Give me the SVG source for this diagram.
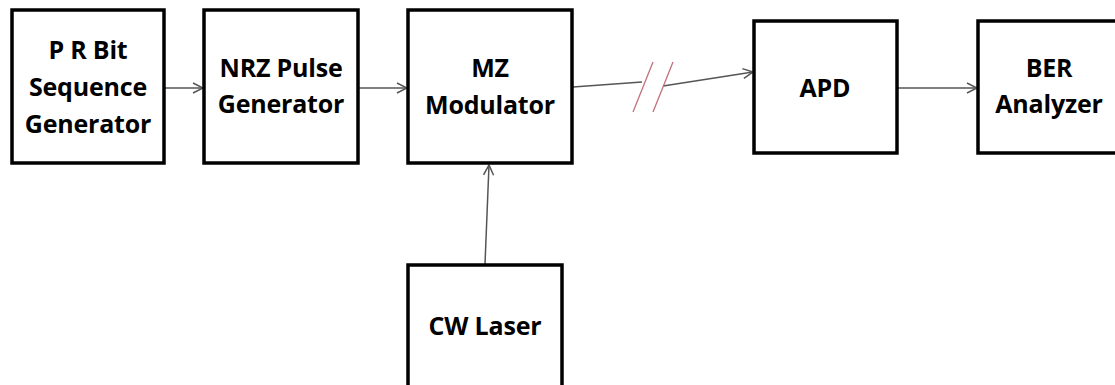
<svg xmlns="http://www.w3.org/2000/svg" width="1115" height="385" viewBox="0 0 1115 385">
<style>
.box{fill:#fff;stroke:#000;stroke-width:3.5}
.t{font-family:"Open Sans","Liberation Sans",sans-serif;font-weight:bold;font-size:25px;fill:#000;text-anchor:middle;letter-spacing:-0.2px}
.c{fill:none;stroke:#555;stroke-width:1.5}
.brk{fill:none;stroke:#c0707a;stroke-width:1.3}
</style>
<defs>
<marker id="a" markerWidth="12" markerHeight="12" refX="11" refY="6" orient="auto" markerUnits="userSpaceOnUse">
<path d="M1,1 L11,6 L1,11" fill="none" stroke="#555" stroke-width="1.5"/>
</marker>
</defs>
<rect width="1115" height="385" fill="#fff"/>
<g id="connectors">
<line class="c" x1="164" y1="88" x2="203" y2="88" marker-end="url(#a)"/>
<line class="c" x1="358" y1="88" x2="407" y2="88" marker-end="url(#a)"/>
<line class="c" x1="573" y1="87" x2="642" y2="82"/>
<line class="c" x1="663" y1="86" x2="753" y2="72" marker-end="url(#a)"/>
<line class="brk" x1="653" y1="62" x2="633" y2="112"/>
<line class="brk" x1="673" y1="62" x2="653" y2="112"/>
<line class="c" x1="897" y1="88" x2="977" y2="88" marker-end="url(#a)"/>
<line class="c" x1="485" y1="264" x2="489" y2="165" marker-end="url(#a)"/>
</g>
<g id="prbs">
<rect class="box" x="12" y="10" width="152" height="153"/>
<text class="t" x="88" y="59">P R Bit</text>
<text class="t" x="88" y="96">Sequence</text>
<text class="t" x="88" y="133">Generator</text>
</g>
<g id="nrz">
<rect class="box" x="204" y="10" width="154" height="153"/>
<text class="t" x="281" y="77">NRZ Pulse</text>
<text class="t" x="281" y="113">Generator</text>
</g>
<g id="mz">
<rect class="box" x="408" y="10" width="164" height="153"/>
<text class="t" x="490" y="77">MZ</text>
<text class="t" x="490" y="114">Modulator</text>
</g>
<g id="apd">
<rect class="box" x="754" y="21" width="143" height="132"/>
<text class="t" x="825" y="97">APD</text>
</g>
<g id="ber">
<rect class="box" x="978" y="21" width="150" height="132"/>
<text class="t" x="1049" y="77">BER</text>
<text class="t" x="1049" y="113">Analyzer</text>
</g>
<g id="cw">
<rect class="box" x="408" y="265" width="154" height="140"/>
<text class="t" x="485" y="335">CW Laser</text>
</g>
</svg>
